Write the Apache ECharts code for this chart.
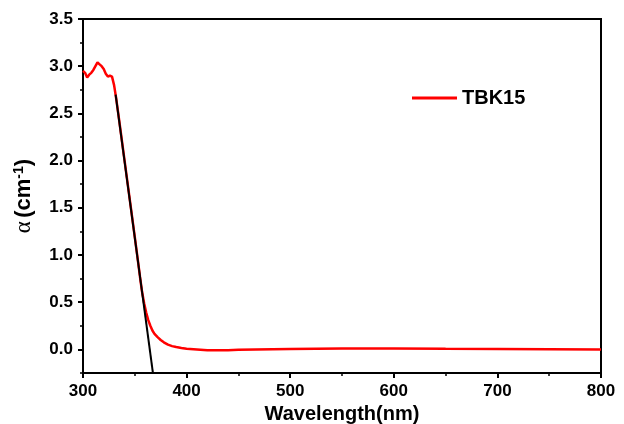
<!DOCTYPE html>
<html>
<head>
<meta charset="utf-8">
<script src="https://cdn.jsdelivr.net/npm/echarts@6/dist/echarts.min.js"></script>
<style>html,body{margin:0;padding:0;background:#fff}#c{width:624px;height:424px}</style>
</head>
<body>
<div id="c"></div>
<script>
const wavelength = [300,302,304,306,308,310,312,314,316,318,320,322,324,326,328,330,332,335,340,345,350,353,355,357,359,361,363,365,367,369,372,375,378,382,386,390,395,400,410,420,430,440,450,500,550,600,650,700,750,800];
const alpha      = [2.95,2.93,2.88,2.91,2.93,2.96,3.0,3.04,3.02,3.0,2.97,2.92,2.89,2.9,2.89,2.8,2.66,2.42,2.01,1.6,1.19,0.94,0.77,0.61,0.49,0.39,0.31,0.25,0.2,0.165,0.13,0.1,0.075,0.05,0.035,0.025,0.015,0.008,0.0,-0.008,-0.01,-0.008,-0.005,0.005,0.01,0.01,0.006,0.004,0.002,0.0];
const tangentX = [331.5, 367.5];
const tangentY = [2.7, -0.25];
const seriesName = 'TBK15';
const xTicks = [300,400,500,600,700,800];
const yMajor = [0,0.5,1.0,1.5,2.0,2.5,3.0,3.5];

const chart = echarts.init(document.getElementById('c'), null, {renderer:'canvas'});
const sans = 'Liberation Sans, Arial, sans-serif';
const yRange = {min:-0.25, max:3.5, interval:0.25};
chart.setOption({
  animation:false,
  backgroundColor:'#fff',
  grid:{left:83,right:23,top:19,bottom:51,containLabel:false,outerBoundsMode:'none',show:true,borderColor:'#000',borderWidth:2,backgroundColor:'transparent'},
  legend:{
    data:[seriesName], left:407, top:83, icon:'rect', itemWidth:45, itemHeight:3, itemGap:6,
    textStyle:{fontFamily:sans,fontWeight:'bold',fontSize:20,color:'#000'}
  },
  xAxis:{
    type:'value', min:xTicks[0], max:xTicks[xTicks.length-1], interval:100,
    name:'Wavelength(nm)', nameLocation:'middle', nameGap:28,
    nameTextStyle:{fontFamily:sans,fontWeight:'bold',fontSize:20,color:'#000'},
    axisLine:{show:true,onZero:false,lineStyle:{color:'#000',width:2}},
    axisTick:{show:true,inside:false,length:5,lineStyle:{color:'#000',width:2}},
    minorTick:{show:true,splitNumber:2,length:3,lineStyle:{color:'#000',width:1.5}},
    axisLabel:{fontFamily:sans,fontWeight:'bold',fontSize:17,color:'#000',margin:10},
    splitLine:{show:false}
  },
  yAxis:[{
    type:'value', ...yRange,
    name:'{g|α} {b|(cm}{s|-1}{b|)}', nameLocation:'middle', nameGap:47, nameRotate:90,
    nameTextStyle:{color:'#000',rich:{
      g:{fontFamily:'Liberation Serif, serif',fontSize:23,color:'#000'},
      b:{fontFamily:sans,fontWeight:'bold',fontSize:22,color:'#000'},
      s:{fontFamily:sans,fontWeight:'bold',fontSize:14,color:'#000',verticalAlign:'top',padding:[0,0,10,0]}
    }},
    axisLine:{show:true,onZero:false,lineStyle:{color:'#000',width:2}},
    axisTick:{show:true,inside:false,length:5,customValues:yMajor,lineStyle:{color:'#000',width:2}},
    axisLabel:{fontFamily:sans,fontWeight:'bold',fontSize:17,color:'#000',margin:10,customValues:yMajor,
      formatter:v=> v.toFixed(1)},
    splitLine:{show:false}
  },{
    type:'value', ...yRange, position:'left',
    axisLine:{show:false},
    axisTick:{show:true,inside:false,length:3,lineStyle:{color:'#000',width:1.5}},
    axisLabel:{show:false},
    splitLine:{show:false}
  }],
  series:[
    {name:seriesName,type:'line',yAxisIndex:0,data:wavelength.map((x,i)=>[x,alpha[i]]),showSymbol:false,symbol:'none',
     lineStyle:{color:'#ff0000',width:2.5},itemStyle:{color:'#ff0000'},z:2},
    {name:'fit',type:'line',yAxisIndex:0,data:tangentX.map((x,i)=>[x,tangentY[i]]),showSymbol:false,symbol:'none',
     lineStyle:{color:'#000',width:2},itemStyle:{color:'#000'},z:3}
  ]
});
</script>
</body>
</html>
